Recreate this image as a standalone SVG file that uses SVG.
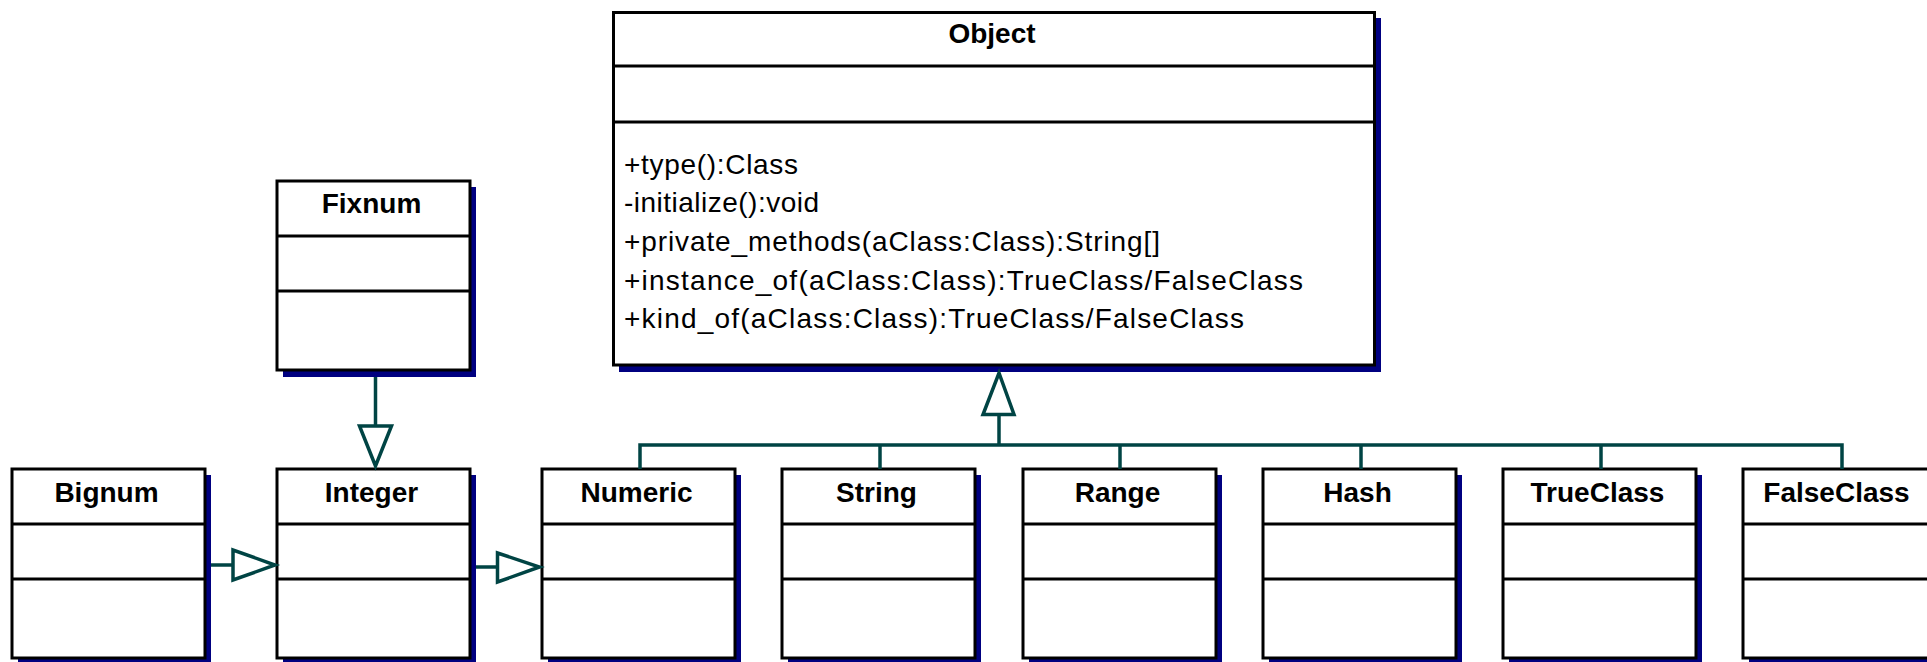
<svg xmlns="http://www.w3.org/2000/svg" width="1927" height="662" viewBox="0 0 1927 662">
<style>
  .box { fill: #ffffff; stroke: #000000; stroke-width: 3; }
  .shadow { fill: #000080; stroke: none; }
  .div { stroke: #000000; stroke-width: 3; }
  .title { font-family: "Liberation Sans", Arial, sans-serif; font-size: 28px; font-weight: bold; fill: #000000; text-anchor: middle; }
  .op { font-family: "Liberation Sans", Arial, sans-serif; font-size: 28px; fill: #000000; }
  .conn { stroke: #004444; stroke-width: 3.5; fill: none; }
  .tri { stroke: #004444; stroke-width: 3.5; fill: #ffffff; stroke-linejoin: miter; }
</style>
<rect width="1927" height="662" fill="#ffffff"/>

<g id="Object">
  <rect class="shadow" x="619" y="18" width="762" height="354"/>
  <rect class="box" x="613.5" y="12.5" width="761" height="352.5"/>
  <line class="div" x1="613.5" y1="66" x2="1374.5" y2="66"/>
  <line class="div" x1="613.5" y1="122" x2="1374.5" y2="122"/>
  <text class="title" x="992" y="43">Object</text>
  <text class="op" x="624" y="174" textLength="174" lengthAdjust="spacing">+type():Class</text>
  <text class="op" x="624" y="212" textLength="195" lengthAdjust="spacing">-initialize():void</text>
  <text class="op" x="624" y="251" textLength="536" lengthAdjust="spacing">+private_methods(aClass:Class):String[]</text>
  <text class="op" x="624" y="289.5" textLength="679" lengthAdjust="spacing">+instance_of(aClass:Class):TrueClass/FalseClass</text>
  <text class="op" x="624" y="328" textLength="620" lengthAdjust="spacing">+kind_of(aClass:Class):TrueClass/FalseClass</text>
</g>

<g id="Fixnum">
  <rect class="shadow" x="283" y="187" width="193" height="190"/>
  <rect class="box" x="277" y="181" width="193" height="189"/>
  <line class="div" x1="277" y1="236" x2="470" y2="236"/>
  <line class="div" x1="277" y1="291" x2="470" y2="291"/>
  <text class="title" x="371.5" y="213">Fixnum</text>
</g>

<g id="Bignum">
  <rect class="shadow" x="18" y="475" width="193" height="190"/>
  <rect class="box" x="12" y="469" width="193" height="189"/>
  <line class="div" x1="12" y1="524" x2="205" y2="524"/>
  <line class="div" x1="12" y1="579" x2="205" y2="579"/>
  <text class="title" x="106.5" y="502">Bignum</text>
</g>

<g id="Integer">
  <rect class="shadow" x="283" y="475" width="193" height="190"/>
  <rect class="box" x="277" y="469" width="193" height="189"/>
  <line class="div" x1="277" y1="524" x2="470" y2="524"/>
  <line class="div" x1="277" y1="579" x2="470" y2="579"/>
  <text class="title" x="371.5" y="502">Integer</text>
</g>

<g id="Numeric">
  <rect class="shadow" x="548" y="475" width="193" height="190"/>
  <rect class="box" x="542" y="469" width="193" height="189"/>
  <line class="div" x1="542" y1="524" x2="735" y2="524"/>
  <line class="div" x1="542" y1="579" x2="735" y2="579"/>
  <text class="title" x="636.5" y="502">Numeric</text>
</g>

<g id="String">
  <rect class="shadow" x="788" y="475" width="193" height="190"/>
  <rect class="box" x="782" y="469" width="193" height="189"/>
  <line class="div" x1="782" y1="524" x2="975" y2="524"/>
  <line class="div" x1="782" y1="579" x2="975" y2="579"/>
  <text class="title" x="876.5" y="502">String</text>
</g>

<g id="Range">
  <rect class="shadow" x="1029" y="475" width="193" height="190"/>
  <rect class="box" x="1023" y="469" width="193" height="189"/>
  <line class="div" x1="1023" y1="524" x2="1216" y2="524"/>
  <line class="div" x1="1023" y1="579" x2="1216" y2="579"/>
  <text class="title" x="1117.5" y="502">Range</text>
</g>

<g id="Hash">
  <rect class="shadow" x="1269" y="475" width="193" height="190"/>
  <rect class="box" x="1263" y="469" width="193" height="189"/>
  <line class="div" x1="1263" y1="524" x2="1456" y2="524"/>
  <line class="div" x1="1263" y1="579" x2="1456" y2="579"/>
  <text class="title" x="1357.5" y="502">Hash</text>
</g>

<g id="TrueClass">
  <rect class="shadow" x="1509" y="475" width="193" height="190"/>
  <rect class="box" x="1503" y="469" width="193" height="189"/>
  <line class="div" x1="1503" y1="524" x2="1696" y2="524"/>
  <line class="div" x1="1503" y1="579" x2="1696" y2="579"/>
  <text class="title" x="1597.5" y="502">TrueClass</text>
</g>

<g id="FalseClass">
  <rect class="shadow" x="1749" y="475" width="193" height="190"/>
  <rect class="box" x="1743" y="469" width="193" height="189"/>
  <line class="div" x1="1743" y1="524" x2="1936" y2="524"/>
  <line class="div" x1="1743" y1="579" x2="1936" y2="579"/>
  <text class="title" x="1836.5" y="502">FalseClass</text>
</g>

<g id="connectors">
  <!-- Fixnum -> Integer -->
  <line class="conn" x1="375.5" y1="377" x2="375.5" y2="426"/>
  <polygon class="tri" points="359.5,426 391.5,426 375.5,466"/>
  <!-- Bignum -> Integer -->
  <line class="conn" x1="211" y1="565" x2="233" y2="565"/>
  <polygon class="tri" points="233,550 233,580 275,565"/>
  <!-- Integer -> Numeric -->
  <line class="conn" x1="476" y1="567" x2="497.5" y2="567"/>
  <polygon class="tri" points="497.5,553 497.5,582 539.5,567"/>
  <!-- Generalization bus to Object -->
  <polyline class="conn" points="640,469 640,445 1842,445 1842,469"/>
  <line class="conn" x1="880" y1="445" x2="880" y2="469"/>
  <line class="conn" x1="1120" y1="445" x2="1120" y2="469"/>
  <line class="conn" x1="1361" y1="445" x2="1361" y2="469"/>
  <line class="conn" x1="1601" y1="445" x2="1601" y2="469"/>
  <line class="conn" x1="999" y1="445" x2="999" y2="414.5"/>
  <polygon class="tri" points="983,414.5 1014,414.5 999,373"/>
</g>
</svg>
